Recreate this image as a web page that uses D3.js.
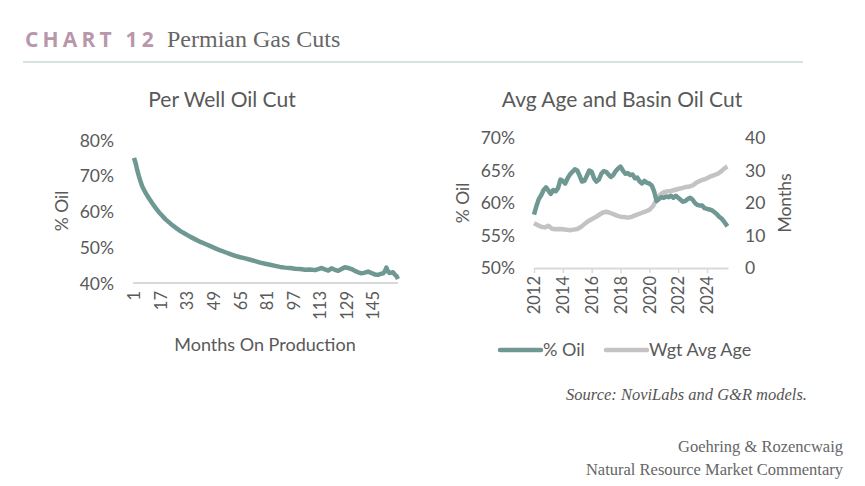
<!DOCTYPE html>
<html>
<head>
<meta charset="utf-8">
<script src="https://cdn.jsdelivr.net/npm/d3@7"></script>
<style>
  body { margin: 0; background: #fff; }
  text { font-family: Lato, "Open Sans", sans-serif; fill: #595959; }
  .serif { font-family: "Liberation Serif", serif; }
</style>
</head>
<body>
<script>
// ---- data ----
// left panel: per well oil cut vs months on production
var months = [1,2,3,4,5,6,8,10,12,14,16,18,20,23,26,29,32,35,38,41,44,47,50,53,56,59,62,65,68,71,74,77,80,83,86,89,92,95,98,101,104,107,110,112,114,116,118,120,122,124,126,128,130,132,134,136,138,140,142,144,146,148,150,151,152,153,154,155,156,157,158,159,160];
var wellOil = [75.0,73.5,71.5,69.8,68.3,67.0,65.2,63.7,62.3,61.0,59.8,58.8,57.8,56.6,55.5,54.5,53.7,52.9,52.2,51.5,50.9,50.3,49.7,49.1,48.6,48.1,47.6,47.2,46.9,46.5,46.1,45.7,45.4,45.1,44.8,44.5,44.3,44.2,44.0,43.9,43.7,43.8,43.6,43.9,44.2,43.8,43.5,44.1,43.7,43.4,43.9,44.4,44.2,43.9,43.4,43.0,42.7,42.9,43.2,42.8,42.4,42.3,42.6,42.7,43.2,44.3,43.2,42.8,42.9,43.0,42.4,42.0,41.1];
var monthTicks = [1,17,33,49,65,81,97,113,129,145];
var leftTicks = [40,50,60,70,80];

// right panel: basin oil cut (%) and weighted average age (months)
var oilDates = ["2012-01","2012-03","2012-05","2012-07","2012-09","2012-11","2013-01","2013-03","2013-05","2013-07","2013-09","2013-11","2014-01","2014-03","2014-05","2014-07","2014-09","2014-11","2015-01","2015-03","2015-05","2015-07","2015-09","2015-11","2016-01","2016-03","2016-05","2016-07","2016-09","2016-11","2017-01","2017-03","2017-05","2017-07","2017-09","2017-11","2018-01","2018-03","2018-05","2018-07","2018-09","2018-11","2019-01","2019-03","2019-05","2019-07","2019-09","2019-11","2020-01","2020-03","2020-05","2020-07","2020-09","2020-11","2021-01","2021-03","2021-05","2021-07","2021-09","2021-11","2022-01","2022-03","2022-05","2022-07","2022-09","2022-11","2023-01","2023-03","2023-05","2023-07","2023-09","2023-11","2024-01","2024-03","2024-05","2024-07","2024-09","2024-11","2025-01","2025-03","2025-06"];
var basinOil = [58.2,59.5,60.6,61.2,62.0,62.4,61.9,61.4,62.0,61.8,62.3,63.6,63.4,63.0,63.8,64.4,64.8,65.2,65.0,64.2,63.3,63.4,64.2,65.0,64.8,63.8,63.3,63.6,64.5,64.9,64.8,64.4,64.0,64.3,64.9,65.3,65.6,65.0,64.5,64.6,64.3,64.4,63.8,63.9,63.3,63.0,63.4,63.1,63.0,62.7,61.8,60.3,60.6,60.9,60.8,61.0,60.9,61.1,60.8,61.1,60.8,60.5,60.2,60.3,60.6,60.8,60.5,60.0,59.7,59.6,59.6,59.2,59.1,59.0,58.9,58.6,58.3,57.9,57.6,57.2,56.4];
var ageDates = ["2012-01","2012-04","2012-07","2012-10","2013-01","2013-04","2013-07","2013-10","2014-01","2014-04","2014-07","2014-10","2015-01","2015-04","2015-07","2015-10","2016-01","2016-04","2016-07","2016-10","2017-01","2017-04","2017-07","2017-10","2018-01","2018-04","2018-07","2018-10","2019-01","2019-04","2019-07","2019-10","2020-01","2020-04","2020-07","2020-10","2021-01","2021-04","2021-07","2021-10","2022-01","2022-04","2022-07","2022-10","2023-01","2023-04","2023-07","2023-10","2024-01","2024-04","2024-07","2024-10","2025-01","2025-04","2025-06"];
var wgtAge = [13.8,13.2,12.7,12.5,13.0,12.1,11.9,12.0,11.9,11.8,11.6,11.8,12.0,12.6,13.5,14.4,15.0,15.6,16.3,17.0,17.3,17.0,16.6,16.1,15.8,15.7,15.5,15.7,16.2,16.6,17.0,17.4,17.9,19.0,21.0,22.6,23.3,23.6,23.7,24.0,24.3,24.6,24.9,25.0,25.4,26.2,26.8,27.2,27.6,28.2,28.6,29.0,29.8,30.8,31.2];
var yearTicks = [2012,2014,2016,2018,2020,2022,2024];
var rightPctTicks = [50,55,60,65,70];
var rightAgeTicks = [0,10,20,30,40];

var oilColor = "#6f9892", ageColor = "#c3c3c3", axisColor = "#d9d9d9";

var svg = d3.select("body").append("svg")
    .attr("width", 865)
    .attr("height", 486);

// header
svg.append("text")
    .attr("x", 25).attr("y", 47)
    .style("font-family", "'Open Sans', sans-serif")
    .style("font-weight", "bold")
    .style("font-size", "21px")
    .style("letter-spacing", "4.2px")
    .style("fill", "#b897ab")
    .text("CHART 12");
svg.append("text")
    .attr("class", "serif")
    .attr("x", 167).attr("y", 47)
    .style("font-size", "24px")
    .style("fill", "#666")
    .text("Permian Gas Cuts");
svg.append("line")
    .attr("x1", 23).attr("x2", 803)
    .attr("y1", 62).attr("y2", 62)
    .style("stroke", "#c8d8d5").style("stroke-width", 1.5);

// ---- left panel ----
var x1 = d3.scaleLinear().domain([1, 160]).range([134, 398]);
var y1 = d3.scaleLinear().domain([40, 80]).range([283, 140]);

svg.append("text")
    .attr("x", 222).attr("y", 107)
    .attr("text-anchor", "middle")
    .style("font-size", "21px")
    .text("Per Well Oil Cut");

var gy1 = svg.append("g")
    .attr("transform", "translate(133,0)")
    .call(d3.axisLeft(y1).tickValues(leftTicks).tickSize(0).tickPadding(19)
        .tickFormat(function(d) { return d + "%"; }));
gy1.select(".domain").remove();
gy1.selectAll("text").style("font-size", "17.5px").style("fill", "#595959").attr("dy", "0.35em");

var gx1 = svg.append("g")
    .attr("transform", "translate(0,283)")
    .call(d3.axisBottom(x1).tickValues(monthTicks).tickSize(0));
gx1.select(".domain").attr("d", "M133,0H398").style("stroke", axisColor).style("stroke-width", 2);
gx1.selectAll("text")
    .attr("transform", "rotate(-90)")
    .attr("x", -8).attr("y", 0).attr("dy", "0.35em")
    .style("text-anchor", "end")
    .style("font-size", "16.5px").style("fill", "#595959");

svg.append("text")
    .attr("transform", "translate(68,211) rotate(-90)")
    .attr("text-anchor", "middle")
    .style("font-size", "17.5px")
    .text("% Oil");
svg.append("text")
    .attr("x", 265).attr("y", 351)
    .attr("text-anchor", "middle")
    .style("font-size", "18px")
    .text("Months On Production");

svg.append("path")
    .datum(months.map(function(m, i) { return [m, wellOil[i]]; }))
    .attr("fill", "none")
    .attr("stroke", oilColor)
    .attr("stroke-width", 4.5)
    .attr("stroke-linejoin", "round")
    .attr("d", d3.line().x(function(d) { return x1(d[0]); }).y(function(d) { return y1(d[1]); }));

// ---- right panel ----
var parse = d3.timeParse("%Y-%m");
var x2 = d3.scaleTime().domain([new Date(2012, 0, 1), new Date(2025, 5, 15)]).range([534, 728]);
var y2 = d3.scaleLinear().domain([50, 70]).range([268, 138]);
var y3 = d3.scaleLinear().domain([0, 40]).range([268, 138]);

svg.append("text")
    .attr("x", 622).attr("y", 107)
    .attr("text-anchor", "middle")
    .style("font-size", "21px")
    .text("Avg Age and Basin Oil Cut");

var gy2 = svg.append("g")
    .attr("transform", "translate(534,0)")
    .call(d3.axisLeft(y2).tickValues(rightPctTicks).tickSize(0).tickPadding(19)
        .tickFormat(function(d) { return d + "%"; }));
gy2.select(".domain").remove();
gy2.selectAll("text").style("font-size", "17.5px").style("fill", "#595959");

var gy3 = svg.append("g")
    .attr("transform", "translate(728,0)")
    .call(d3.axisRight(y3).tickValues(rightAgeTicks).tickSize(0).tickPadding(17));
gy3.select(".domain").remove();
gy3.selectAll("text").style("font-size", "17.5px").style("fill", "#595959");

var gx2 = svg.append("g")
    .attr("transform", "translate(0,268)")
    .call(d3.axisBottom(x2).tickValues(yearTicks.map(function(y) { return new Date(y, 0, 1); }))
        .tickSize(5).tickSizeOuter(0).tickFormat(d3.timeFormat("%Y")));
gx2.select(".domain").style("stroke", axisColor).style("stroke-width", 2);
gx2.selectAll("line").style("stroke", axisColor).style("stroke-width", 1.5);
gx2.selectAll("text")
    .attr("transform", "rotate(-90)")
    .attr("x", -8).attr("y", 0).attr("dy", "0.35em")
    .style("text-anchor", "end")
    .style("font-size", "16.5px").style("fill", "#595959");

svg.append("text")
    .attr("transform", "translate(469,203) rotate(-90)")
    .attr("text-anchor", "middle")
    .style("font-size", "17.5px")
    .text("% Oil");
svg.append("text")
    .attr("transform", "translate(791,203) rotate(-90)")
    .attr("text-anchor", "middle")
    .style("font-size", "17.5px")
    .text("Months");

svg.append("path")
    .datum(ageDates.map(function(d, i) { return [parse(d), wgtAge[i]]; }))
    .attr("fill", "none")
    .attr("stroke", ageColor)
    .attr("stroke-width", 4.5)
    .attr("stroke-linejoin", "round")
    .attr("d", d3.line().x(function(d) { return x2(d[0]); }).y(function(d) { return y3(d[1]); }));

svg.append("path")
    .datum(oilDates.map(function(d, i) { return [parse(d), basinOil[i]]; }))
    .attr("fill", "none")
    .attr("stroke", oilColor)
    .attr("stroke-width", 4.5)
    .attr("stroke-linejoin", "round")
    .attr("d", d3.line().x(function(d) { return x2(d[0]); }).y(function(d) { return y2(d[1]); }));

// legend
var legend = [{name: "% Oil", color: oilColor, x: 500}, {name: "Wgt Avg Age", color: ageColor, x: 606}];
legend.forEach(function(l) {
  svg.append("line")
      .attr("x1", l.x).attr("x2", l.x + 41)
      .attr("y1", 350).attr("y2", 350)
      .attr("stroke", l.color).attr("stroke-width", 4.5).attr("stroke-linecap", "round");
  svg.append("text")
      .attr("x", l.x + 43).attr("y", 356)
      .style("font-size", "18px")
      .text(l.name);
});

// source + footer
svg.append("text")
    .attr("class", "serif")
    .attr("x", 807).attr("y", 400)
    .attr("text-anchor", "end")
    .style("font-style", "italic")
    .style("font-size", "16.5px")
    .style("fill", "#555")
    .text("Source: NoviLabs and G&R models.");
svg.append("text")
    .attr("class", "serif")
    .attr("x", 843).attr("y", 452)
    .attr("text-anchor", "end")
    .style("font-size", "16.5px")
    .style("fill", "#666")
    .text("Goehring & Rozencwaig");
svg.append("text")
    .attr("class", "serif")
    .attr("x", 843).attr("y", 475)
    .attr("text-anchor", "end")
    .style("font-size", "16.5px")
    .style("fill", "#666")
    .text("Natural Resource Market Commentary");
</script>
</body>
</html>
